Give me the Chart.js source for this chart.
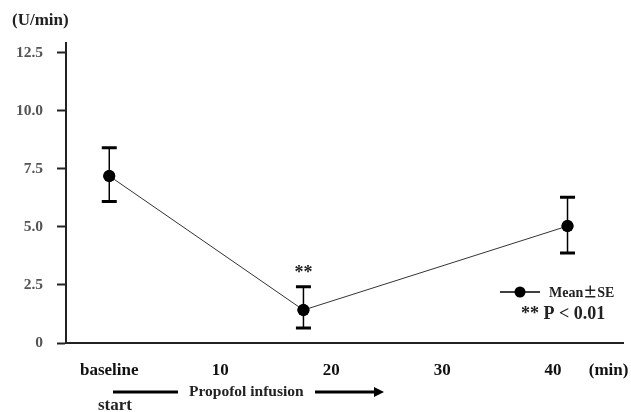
<!DOCTYPE html>
<html>
<head>
<meta charset="utf-8">
<script src="https://cdn.jsdelivr.net/npm/chart.js@4/dist/chart.umd.min.js"></script>
<style>
  body { margin: 0; background: #fff; }
  #wrap { width: 631px; height: 412px; }
</style>
</head>
<body>
<div id="wrap"><canvas id="chart" width="631" height="412"></canvas></div>
<script>
// values
var times = [0, 17.5, 41.3];            // min after start (baseline = 0)
var means = [7.2, 1.42, 5.04];          // U/min
var seHigh = [8.42, 2.42, 6.28];
var seLow = [6.1, 0.65, 3.88];
var xTickValues = [0, 10, 20, 30, 40, 45];
var xTickLabels = ["baseline", "10", "20", "30", "40", "(min)"];
var yTickValues = [0, 2.5, 5, 7.5, 10, 12.5];

var serif = "'Liberation Serif', 'DejaVu Serif', serif";

// error bars, significance marks, legend and infusion arrow
var extras = {
    id: "extras",
    afterDatasetsDraw: function (chart) {
        var ctx = chart.ctx;
        var x = chart.scales.x, y = chart.scales.y;
        ctx.save();
        ctx.strokeStyle = "#000";
        for (var i = 0; i < times.length; i++) {
            var px = x.getPixelForValue(times[i]);
            var top = y.getPixelForValue(seHigh[i]);
            var bot = y.getPixelForValue(seLow[i]);
            ctx.lineWidth = 1.5;
            ctx.beginPath();
            ctx.moveTo(px, top);
            ctx.lineTo(px, bot);
            ctx.stroke();
            ctx.lineWidth = 3;
            ctx.beginPath();
            ctx.moveTo(px - 7.5, top);
            ctx.lineTo(px + 7.5, top);
            ctx.moveTo(px - 7.5, bot);
            ctx.lineTo(px + 7.5, bot);
            ctx.stroke();
        }
        // redraw points over the bars
        var meta = chart.getDatasetMeta(0);
        meta.data.forEach(function (pt) { pt.draw(ctx, chart.chartArea); });

        ctx.fillStyle = "#222";
        ctx.textAlign = "center";
        ctx.textBaseline = "middle";
        ctx.font = "bold 18px " + serif;
        ctx.fillText("**", x.getPixelForValue(times[1]) - 0, y.getPixelForValue(seHigh[1]) - 14);

        // legend
        ctx.strokeStyle = "#000";
        ctx.lineWidth = 1.5;
        ctx.beginPath();
        ctx.moveTo(500, 292);
        ctx.lineTo(540, 292);
        ctx.stroke();
        ctx.fillStyle = "#000";
        ctx.beginPath();
        ctx.arc(520, 292, 5.5, 0, Math.PI * 2);
        ctx.fill();
        ctx.textAlign = "left";
        ctx.fillStyle = "#222";
        var lx = 549;
        ctx.font = "bold 14px " + serif;
        ctx.fillText("Mean", lx, 293);
        lx += ctx.measureText("Mean").width;
        ctx.font = "bold 14px 'Noto Sans CJK JP'";
        ctx.fillText("\u00b1", lx, 292);
        lx += ctx.measureText("\u00b1").width;
        ctx.font = "bold 14px " + serif;
        ctx.fillText("SE", lx, 293);
        ctx.font = "bold 18px " + serif;
        ctx.fillText("** P < 0.01", 521, 314);

        // unit label
        ctx.font = "bold 17px " + serif;
        ctx.fillText("(U/min)", 12, 21);

        // infusion arrow
        ctx.lineWidth = 3;
        ctx.beginPath();
        ctx.moveTo(113, 392);
        ctx.lineTo(178, 392);
        ctx.moveTo(315, 392);
        ctx.lineTo(376, 392);
        ctx.stroke();
        ctx.fillStyle = "#000";
        ctx.beginPath();
        ctx.moveTo(384, 392);
        ctx.lineTo(374, 387);
        ctx.lineTo(374, 397);
        ctx.closePath();
        ctx.fill();
        ctx.fillStyle = "#222";
        ctx.font = "bold 15.5px " + serif;
        ctx.fillText("Propofol infusion", 189, 392);
        ctx.textAlign = "center";
        ctx.font = "bold 17px " + serif;
        ctx.fillText("start", 115, 406);
        ctx.restore();
    }
};

var chart = new Chart(document.getElementById("chart").getContext("2d"), {
    type: "scatter",
    data: {
        datasets: [
            {
                data: times.map(function (t, i) { return { x: t, y: means[i] }; }),
                showLine: true,
                borderColor: "#333",
                borderWidth: 1,
                pointRadius: 6,
                pointBackgroundColor: "#000",
                pointBorderColor: "#000",
                pointBorderWidth: 0,
            },
        ],
    },
    options: {
        responsive: false,
        animation: false,
        layout: { padding: { top: 43, right: 8, left: 0, bottom: 0 } },
        plugins: { legend: { display: false }, tooltip: { enabled: false } },
        scales: {
            x: {
                type: "linear",
                min: -3.9,
                max: 46.3,
                afterBuildTicks: function (scale) {
                    scale.ticks = xTickValues.map(function (v) { return { value: v }; });
                },
                afterFit: function (scale) {
                    scale.height = 69;
                    scale.paddingLeft = 0;
                    scale.paddingRight = 0;
                },
                grid: { display: false, drawTicks: false },
                border: { color: "#222", width: 2 },
                ticks: {
                    padding: 17,
                    color: "#111",
                    font: { family: serif, size: 17, weight: "bold" },
                    callback: function (v) {
                        var i = xTickValues.indexOf(v);
                        return i >= 0 ? xTickLabels[i] : "";
                    },
                },
            },
            y: {
                min: 0,
                max: 12.93,
                afterBuildTicks: function (scale) {
                    scale.ticks = yTickValues.map(function (v) { return { value: v }; });
                },
                afterFit: function (scale) {
                    scale.width = 66;
                    scale.paddingTop = 0;
                    scale.paddingBottom = 0;
                },
                grid: { drawOnChartArea: false, tickLength: 9, tickColor: "#222", tickWidth: 2 },
                border: { color: "#222", width: 2 },
                ticks: {
                    padding: 14,
                    color: "#555",
                    font: { family: serif, size: 15.5, weight: "bold" },
                    callback: function (v) { return v === 0 ? "0" : v.toFixed(1); },
                },
            },
        },
    },
    plugins: [extras],
});
</script>
</body>
</html>
